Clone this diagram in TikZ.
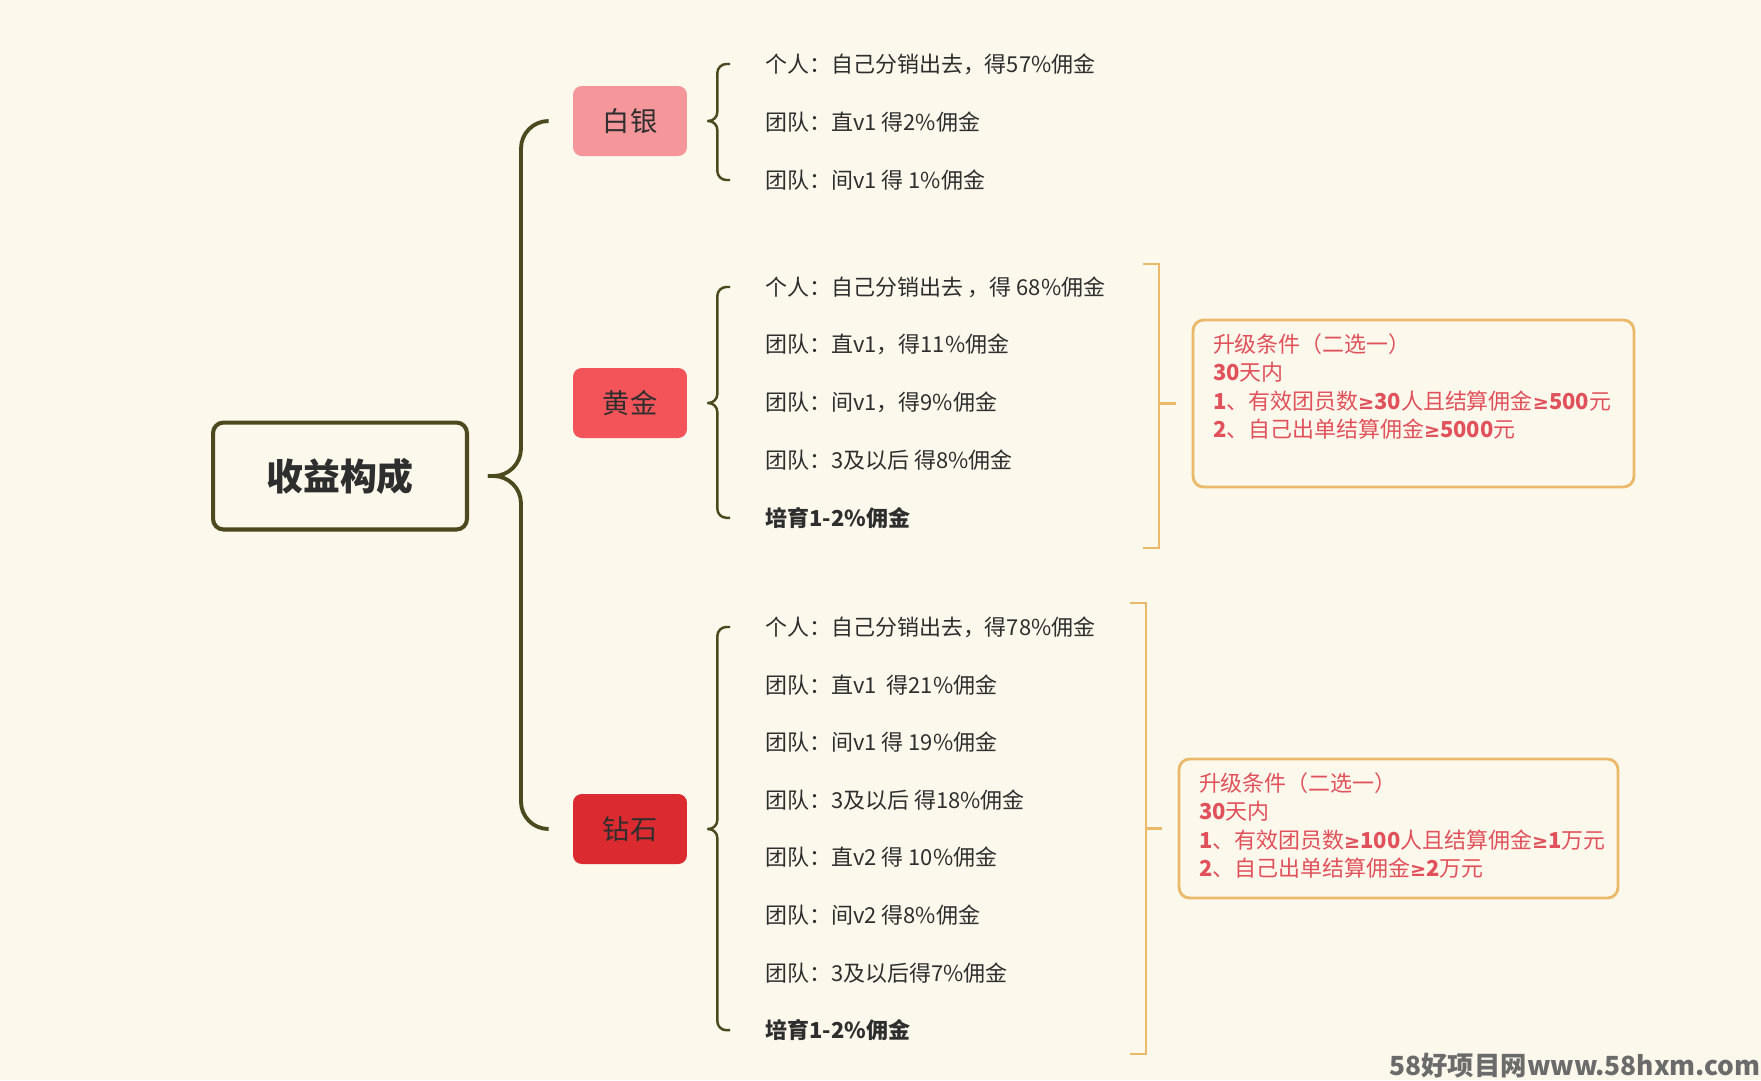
\documentclass[tikz,border=0pt]{standalone}
\usepackage{fontspec}
\setmainfont{Noto Sans CJK SC}
\newfontfamily\symfont{DejaVu Sans}
\usetikzlibrary{positioning}

\definecolor{paper}{HTML}{FDF8EC}
\definecolor{olive}{HTML}{4B4A1E}
\definecolor{ink}{HTML}{2E2E2E}
\definecolor{silverfill}{HTML}{F4969A}
\definecolor{goldfill}{HTML}{F2545A}
\definecolor{diamondfill}{HTML}{DB2A30}
\definecolor{amber}{HTML}{EAB96A}
\definecolor{notered}{HTML}{E0515B}
\definecolor{markgray}{HTML}{6B6B6B}

\newcommand{\atleast}{{\symfont\bfseries\fontsize{11}{16}\selectfont ≥}}

\tikzset{
  rootbox/.style={draw=olive, line width=2.3pt, rounded corners=6pt, minimum width=5.08cm, minimum height=2.14cm, text=ink, font=\fontsize{21}{24}\selectfont\bfseries},
  levelbox/.style={rounded corners=5pt, minimum width=2.28cm, minimum height=1.4cm, text=ink, font=\fontsize{15.5}{18}\selectfont},
  item/.style={anchor=west, inner sep=0pt, text=ink, font=\fontsize{12.5}{15}\selectfont},
  bigbrace/.style={draw=olive, line width=2.2pt, rounded corners=0.55cm},
  smallbrace/.style={draw=olive, line width=1.4pt, rounded corners=0.18cm},
  bracket/.style={draw=amber, line width=1.6pt},
  notebox/.style={draw=amber, line width=1.6pt, rounded corners=6pt},
  notetext/.style={anchor=north west, inner sep=0pt, align=left, text=notered, font=\fontsize{12.5}{16}\selectfont},
}

% brace: style, tip, xshift of the stem, top end, bottom end
\newcommand{\curlyjoin}[5]{%
  \draw[#1] (#2) -- ([xshift=#3]#2) |- (#4);
  \draw[#1] (#2) -- ([xshift=#3]#2) |- (#5);
}

\begin{document}
\begin{tikzpicture}[x=0.02cm, y=-0.02cm]
    % Background
    \fill[paper] (0,0) rectangle (1761,1080);
    \useasboundingbox (0,0) rectangle (1761,1080);

    % Root and levels
    \node[rootbox] (root) at (340,476) {收益构成};
    \node[levelbox, fill=silverfill] (silver) at (630,121) {白银};
    \node[levelbox, fill=goldfill] (gold) at (630,403) {黄金};
    \node[levelbox, fill=diamondfill] (diamond) at (630,829) {钻石};

    % Main brace
    \coordinate (tip) at ([xshift=0.38cm]root.east);
    \curlyjoin{bigbrace}{tip}{0.66cm}{[xshift=-0.5cm]silver.west}{[xshift=-0.5cm]diamond.west}

    % Silver items
    \foreach \txt [count=\i] in {个人：自己分销出去，得57\%佣金, 团队：直v1 得2\%佣金, 团队：间v1 得 1\%佣金}
        \node[item] (s\i) at (765,{64+58*(\i-1)}) {\txt};

    % Gold items
    \foreach \txt [count=\i] in {个人：自己分销出去 ，得 68\%佣金, 团队：直v1，得11\%佣金, 团队：间v1，得9\%佣金, 团队：3及以后 得8\%佣金, \textbf{培育1-2\%佣金}}
        \node[item] (g\i) at (765,{287+57.7*(\i-1)}) {\txt};

    % Diamond items
    \foreach \txt [count=\i] in {个人：自己分销出去，得78\%佣金, 团队：直v1 \ 得21\%佣金, 团队：间v1 得 19\%佣金, 团队：3及以后 得18\%佣金, 团队：直v2 得 10\%佣金, 团队：间v2 得8\%佣金, 团队：3及以后得7\%佣金, \textbf{培育1-2\%佣金}}
        \node[item] (d\i) at (765,{627+57.6*(\i-1)}) {\txt};

    % Small braces
    \coordinate (s-tip) at ([xshift=0.4cm]silver.east);
    \coordinate (g-tip) at ([xshift=0.4cm]gold.east);
    \coordinate (d-tip) at ([xshift=0.4cm]diamond.east);
    \curlyjoin{smallbrace}{s-tip}{0.2cm}{[xshift=-0.7cm]s1.west}{[xshift=-0.7cm]s3.west}
    \curlyjoin{smallbrace}{g-tip}{0.2cm}{[xshift=-0.7cm]g1.west}{[xshift=-0.7cm]g5.west}
    \curlyjoin{smallbrace}{d-tip}{0.2cm}{[xshift=-0.7cm]d1.west}{[xshift=-0.7cm]d8.west}

    % Upgrade notes
    \node[notebox, minimum width=8.82cm, minimum height=3.34cm] (up1) at (1413.5,403.5) {};
    \node[notetext] (up1txt) at ([shift={(21,15)}]up1.north west)
        {升级条件（二选一）\\\textbf{30}天内\\\textbf{1}、有效团员数\atleast\textbf{30}人且结算佣金\atleast\textbf{500}元\\\textbf{2}、自己出单结算佣金\atleast\textbf{5000}元};
    \node[notebox, minimum width=8.78cm, minimum height=2.78cm] (up2) at (1398.5,828.5) {};
    \node[notetext] (up2txt) at ([shift={(21,15)}]up2.north west)
        {升级条件（二选一）\\\textbf{30}天内\\\textbf{1}、有效团员数\atleast\textbf{100}人且结算佣金\atleast\textbf{1}万元\\\textbf{2}、自己出单结算佣金\atleast\textbf{2}万元};

    % Orange brackets
    \coordinate (g-top) at (1143,264);
    \coordinate (g-bot) at (1143,548);
    \coordinate (g-mid) at (1159,403.5);
    \draw[bracket] (g-top) -- ++(0.32cm,0) |- (g-bot);
    \draw[bracket] (g-mid) -- ([xshift=-0.32cm]up1.west);
    \coordinate (d-top) at (1130,603);
    \coordinate (d-bot) at (1130,1054);
    \coordinate (d-mid) at (1146,828.5);
    \draw[bracket] (d-top) -- ++(0.32cm,0) |- (d-bot);
    \draw[bracket] (d-mid) -- ([xshift=-0.32cm]up2.west);

    % Watermark
    \node[anchor=east, inner sep=0pt, text=markgray, font=\fontsize{15}{18}\selectfont\bfseries] (mark) at (1761,1066) {58好项目网www.58hxm.com};
\end{tikzpicture}
\end{document}
